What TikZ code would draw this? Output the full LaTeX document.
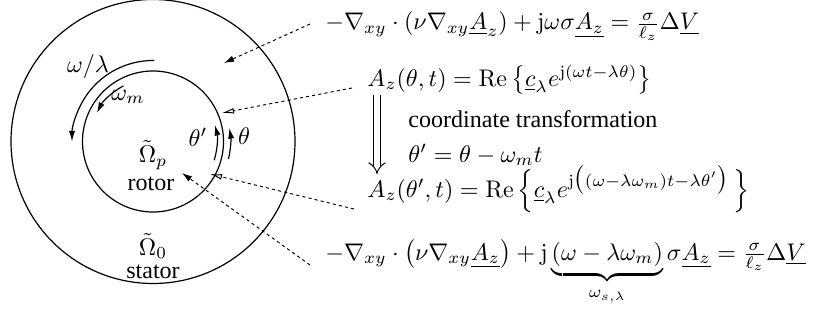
\documentclass[tikz,border=0pt]{standalone}
\usepackage[no-math]{fontspec}
\setmainfont{Liberation Serif}
\usetikzlibrary{arrows.meta,calc}
\begin{document}
\begin{tikzpicture}[x=0.416pt,y=0.416pt,
  ring/.style={line width=0.5pt},
  rot/.style={line width=0.5pt,-{Latex[length=4.4pt,width=2.6pt]}},
  leader/.style={line width=0.4pt,dash pattern=on 1.3pt off 1.3pt},
  fillhead/.style={leader,-{Latex[length=4.2pt,width=2.6pt]}},
  openhead/.style={leader,-{Latex[open,length=5pt,width=2.4pt]}},
  lbl/.style={inner sep=0pt},
  eq/.style={inner sep=0pt,anchor=base west}]
\useasboundingbox (0,0) rectangle (822,326);
\coordinate (c) at (153,184.5);
% circles
\draw[ring] (c) circle[radius=142];
\draw[ring] (c) circle[radius=70.5];
% rotation arcs
\draw[rot] ($(c)+(89:81)$) arc[start angle=89,end angle=180,radius=81];
\draw[rot] ($(c)+(118:63)$) arc[start angle=118,end angle=153,radius=63];
\draw[rot] ($(c)+(-17:64)$) arc[start angle=-17,end angle=15,radius=64];
\draw[rot] ($(c)+(-13:77.5)$) arc[start angle=-13,end angle=10,radius=77.5];
% labels in the disc
\node[lbl] (wl) at (88,260) {$\omega/\lambda$};
\node[lbl] (wm) at (128,229) {$\omega_m$};
\node[lbl] (thp) at (198,189) {$\theta'$};
\node[lbl] (th) at (244,190) {$\theta$};
\node[lbl] (Op) at (153,171) {$\tilde{\Omega}_p$};
\node[lbl,anchor=base] (rotor) at (151,136) {rotor};
\node[lbl] (O0) at (153,80) {$\tilde{\Omega}_0$};
\node[lbl,anchor=base] (stator) at (153,48) {stator};
% equations
\node[eq] (eq1) at (325,296) {$-\nabla_{xy}\cdot(\nu\nabla_{xy}\underline{A}_z)+\mathrm{j}\omega\sigma\underline{A_z}=\frac{\sigma}{\ell_z}\Delta\underline{V}$};
\node[eq] (eq2) at (367,240) {$A_z(\theta,t)=\mathrm{Re}\left\{\underline{c}_\lambda e^{\mathrm{j}(\omega t-\lambda\theta)}\right\}$};
\node[eq] (ct) at (408,199) {coordinate transformation};
\node[eq] (tr) at (408,164) {$\theta'=\theta-\omega_m t$};
\node[eq] (eq3) at (367,129) {$A_z(\theta',t)=\mathrm{Re}\,\Bigl\{\underline{c}_\lambda e^{\mathrm{j}\bigl((\omega-\lambda\omega_m)t-\lambda\theta'\bigr)}\,\Bigr\}$};
\node[eq] (eq4) at (325,66) {$-\nabla_{xy}\cdot\bigl(\nu\nabla_{xy}\underline{A_z}\bigr)+\mathrm{j}\underbrace{(\omega-\lambda\omega_m)}_{\omega_{s,\lambda}}\sigma\underline{A_z}=\frac{\sigma}{\ell_z}\Delta\underline{V}$};
% transformation arrow
\coordinate (dtop) at (377,231);
\coordinate (dbot) at (377,152);
\draw[line width=0.4pt,double,double distance=2.2pt,-{Implies}] (dtop) -- (dbot);
% leader lines
\coordinate (s1) at (310,302); \coordinate (t1) at (224,263);
\coordinate (s2) at (352,238); \coordinate (t2) at (222,213);
\coordinate (s3) at (354,117); \coordinate (t3) at (210,152);
\coordinate (s4) at (310,61);  \coordinate (t4) at (182,153);
\draw[fillhead] (s1) -- (t1);
\draw[openhead] (s2) -- (t2);
\draw[openhead] (s3) -- (t3);
\draw[fillhead] (s4) -- (t4);
\end{tikzpicture}
\end{document}
